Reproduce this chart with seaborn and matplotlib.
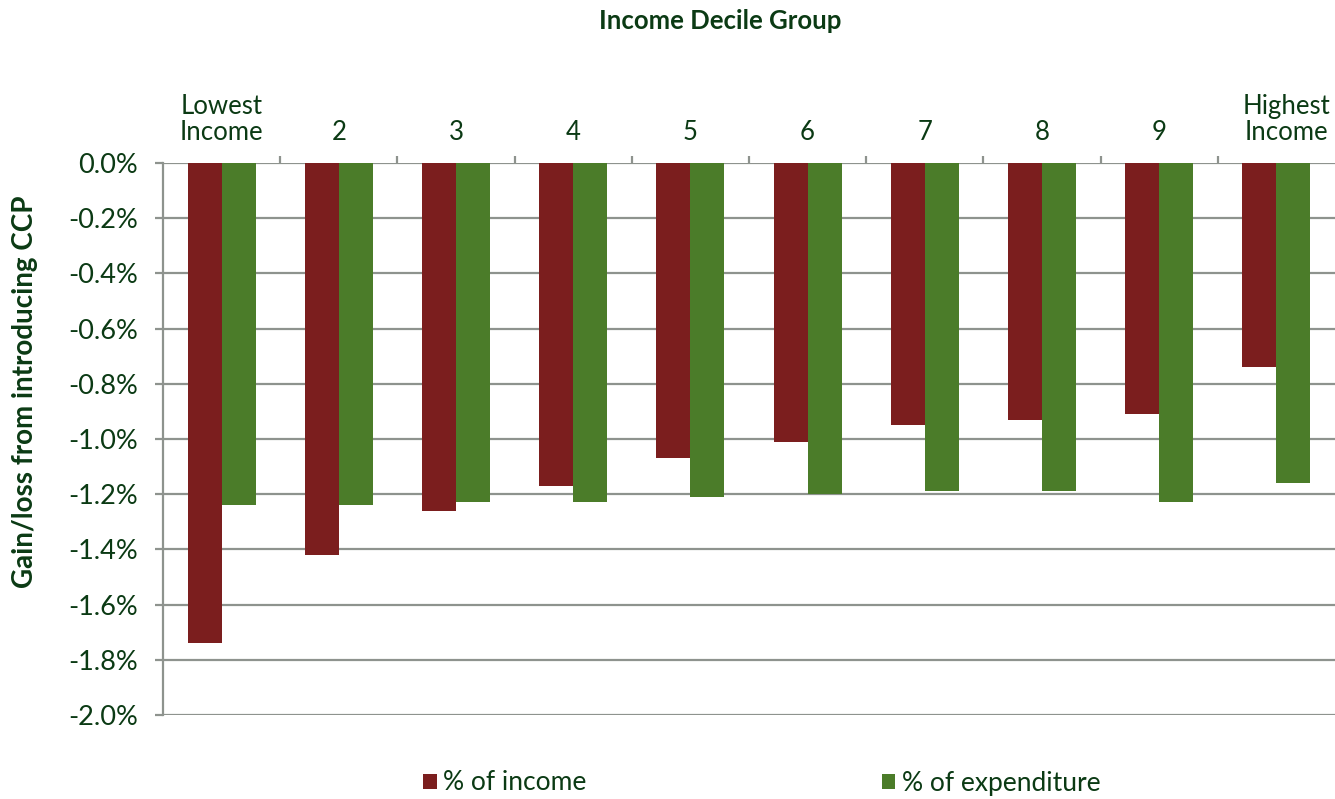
import numpy as np
import pandas as pd
import matplotlib
matplotlib.use("Agg")
import matplotlib.pyplot as plt
import matplotlib.transforms as mtransforms
from matplotlib.patches import Patch
import seaborn as sns

# Income decile groups and the CCP gain/loss (in %) for each measure
deciles = ["Lowest\nIncome", "2", "3", "4", "5", "6", "7", "8", "9", "Highest\nIncome"]
pct_income = [-1.74, -1.42, -1.26, -1.17, -1.07, -1.01, -0.95, -0.93, -0.91, -0.74]
pct_expenditure = [-1.24, -1.24, -1.23, -1.23, -1.21, -1.20, -1.19, -1.19, -1.23, -1.16]
series_names = ["% of income", "% of expenditure"]
y_ticks = [0.0, -0.2, -0.4, -0.6, -0.8, -1.0, -1.2, -1.4, -1.6, -1.8, -2.0]

RED = "#7b1e1e"
GREEN = "#4b7c29"
TEXT = "#0b3a14"
GRID = "#8e938e"

sns.set_theme(style="white")
plt.rcParams["font.family"] = ["Lato", "DejaVu Sans"]

df = pd.DataFrame({
    "decile": deciles * 2,
    "value": pct_income + pct_expenditure,
    "measure": [series_names[0]] * len(deciles) + [series_names[1]] * len(deciles),
})

W, H = 1335, 799
fig = plt.figure(figsize=(W / 100, H / 100), dpi=100)
ax = fig.add_axes([163 / W, 1 - 715 / H, (W - 163) / W, (715 - 163) / H])

sns.barplot(data=df, x="decile", y="value", hue="measure", order=deciles,
            hue_order=series_names, palette=[RED, GREEN], width=0.58,
            saturation=1, linewidth=0, ax=ax, legend=False)

ax.set_xlim(-0.5, len(deciles) - 0.5)
ax.set_ylim(-2.0, 0.0)
ax.set_axisbelow(True)

# horizontal gridlines
ax.set_yticks(y_ticks)
ax.set_yticklabels([f"{v:.1f}%" for v in y_ticks], color=TEXT, fontsize=19.5)
ax.yaxis.grid(True, color=GRID, linewidth=1.6)
ax.xaxis.grid(False)
ax.tick_params(axis="y", which="major", direction="out", length=6, width=1.6,
               color=GRID, pad=12, left=True)

# category labels above the zero line, with boundary tick marks
ax.xaxis.set_ticks_position("top")
ax.xaxis.set_label_position("top")
ax.set_xticks(range(len(deciles)))
ax.set_xticklabels(deciles, color=TEXT, fontsize=18.5, linespacing=1.05)
ax.set_xticks(np.arange(0.5, len(deciles) - 0.5, 1), minor=True)
ax.tick_params(axis="x", which="major", length=0, pad=13, top=True, bottom=False)
ax.tick_params(axis="x", which="minor", length=5, width=1.6, color=GRID,
               direction="out", top=True, bottom=False)
ax.set_xlabel("")
ax.set_ylabel("")

# nudge the last category label inward so it sits flush with the right edge
last = ax.get_xticklabels()[-1]
last.set_transform(last.get_transform() +
                   mtransforms.ScaledTranslation(10 / 100, 0, fig.dpi_scale_trans))

for side in ["top", "right", "bottom"]:
    ax.spines[side].set_visible(False)
ax.spines["left"].set_color(GRID)
ax.spines["left"].set_linewidth(1.6)

fig.text(720 / W, 1 - 21 / H, "Income Decile Group", ha="center", va="center",
         fontsize=18.5, fontweight="bold", color=TEXT)
fig.text(25 / W, 1 - 392 / H, "Gain/loss from introducing CCP", ha="center",
         va="center", rotation=90, fontsize=20, fontweight="bold", color=TEXT)

handles = [Patch(facecolor=RED, edgecolor="none"), Patch(facecolor=GREEN, edgecolor="none")]
leg = fig.legend(handles, series_names, loc="center", bbox_to_anchor=(762 / W, 1 - 783 / H),
                 ncol=2, frameon=False, fontsize=19, handlelength=0.5, handleheight=0.5,
                 handletextpad=0.25, columnspacing=11.2, labelcolor=TEXT)

fig.savefig("out.png", dpi=100)
